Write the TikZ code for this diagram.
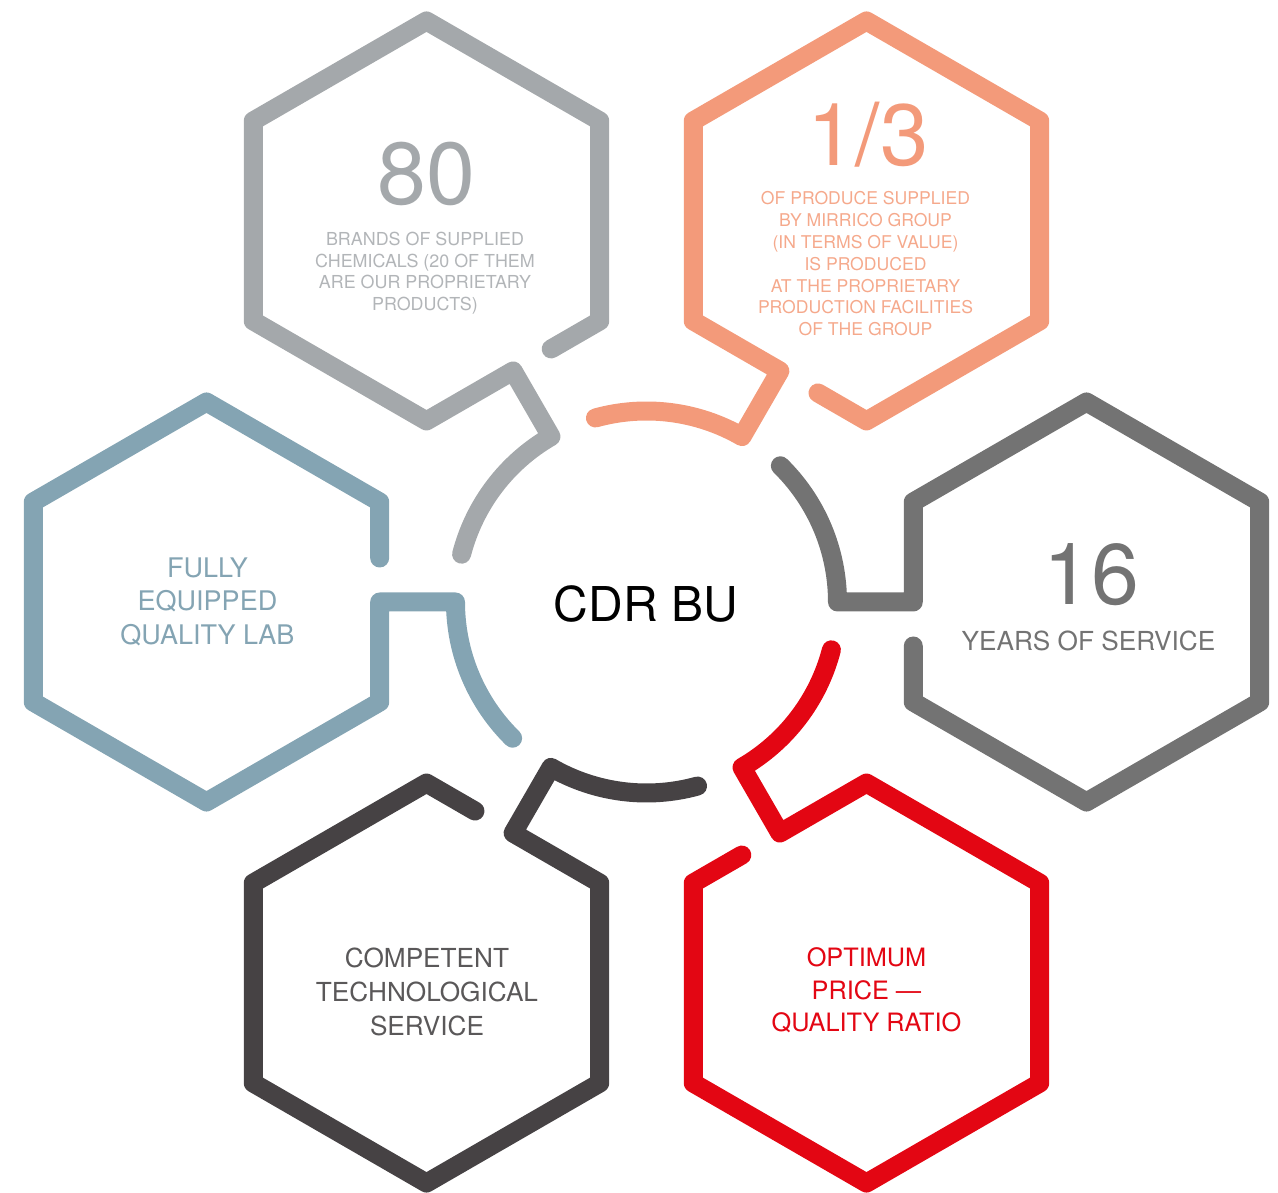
\documentclass[tikz,border=0pt]{standalone}
\usepackage{fontspec}
\setmainfont{TeX Gyre Heros}
\definecolor{cGray}{HTML}{A4A8AB}
\definecolor{cGrayT}{HTML}{B2B5B8}
\definecolor{cOrange}{HTML}{F39A7A}
\definecolor{cOrangeT}{HTML}{F5A98C}
\definecolor{cRight}{HTML}{737373}
\definecolor{cBlue}{HTML}{84A4B3}
\definecolor{cDark}{HTML}{464244}
\definecolor{cDarkT}{HTML}{5A5859}
\definecolor{cRed}{HTML}{E30613}
\newcommand\stackrows[2]{\vtop{\baselineskip=#1\lineskiplimit=-100pt\lineskip=0pt\halign{\hfil##\hfil\cr#2\crcr}}}
\begin{document}
\begin{tikzpicture}[x=1pt,y=1pt,
  hexline/.style={line width=19pt, line cap=round, line join=round},
  txt/.style={inner sep=0pt, anchor=base}]
\useasboundingbox (-646.5,-591) rectangle (631.5,602);
\coordinate (hub) at (0,0);
% six hexagons, each one continuous stroke ending in an arc of the central ring
\foreach \ang/\col in {0/cRight,60/cOrange,120/cGray,180/cBlue,240/cDark,300/cRed}{
  \draw[hexline, draw=\col, rotate=\ang]
    (266.8,-44) -- (266.8,-100) -- (440,-200) -- (613.2,-100) -- (613.2,100)
    -- (440,200) -- (266.8,100) -- (266.8,0) -- (191,0)
    arc[start angle=0, end angle=45.5, radius=191];
}
% centre
\node[txt, black, font=\fontsize{48}{48}\selectfont] (cdr) at (-0.7,-19.7) {CDR BU};
% gray
\node[txt, cGray, font=\fontsize{88}{88}\selectfont] (n80) at (-220,397) {80};
\node[txt, cGrayT, font=\fontsize{17.9}{21.5}\selectfont] (t80) at (-221.5,356.3)
  {\stackrows{21.5pt}{BRANDS OF SUPPLIED\cr CHEMICALS (20 OF THEM\cr ARE OUR PROPRIETARY\cr PRODUCTS)}};
% orange
\node[txt, cOrange, font=\fontsize{87}{87}\selectfont] (n13) at (221.5,436) {1/3};
\node[txt, cOrangeT, font=\fontsize{17.6}{21.8}\selectfont] (t13) at (219,397)
  {\stackrows{21.8pt}{OF PRODUCE SUPPLIED\cr BY MIRRICO GROUP\cr (IN TERMS OF VALUE)\cr IS PRODUCED\cr AT THE PROPRIETARY\cr PRODUCTION FACILITIES\cr OF THE GROUP}};
% right
\node[txt, cRight, font=\fontsize{86}{86}\selectfont] (n16) at (444.5,-3) {16};
\node[txt, cRight, font=\fontsize{26.2}{26}\selectfont] (t16) at (442,-48.5) {YEARS OF SERVICE};
% blue
\node[txt, cBlue, font=\fontsize{27}{33.4}\selectfont] (tlab) at (-439,24.7)
  {\stackrows{33.4pt}{FULLY\cr EQUIPPED\cr QUALITY LAB}};
% dark
\node[txt, cDarkT, font=\fontsize{26.2}{33.7}\selectfont] (ttech) at (-219.5,-365.7)
  {\stackrows{33.7pt}{COMPETENT\cr TECHNOLOGICAL\cr SERVICE}};
% red
\node[txt, cRed, font=\fontsize{25.3}{32.5}\selectfont] (tprice) at (220,-364.7)
  {\stackrows{32.5pt}{OPTIMUM\cr PRICE —\cr QUALITY RATIO}};
\end{tikzpicture}
\end{document}
